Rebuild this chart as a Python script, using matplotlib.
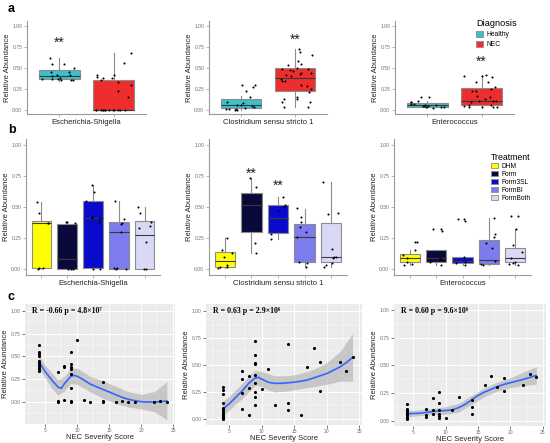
import numpy as np
import matplotlib
matplotlib.use('Agg')
import matplotlib.pyplot as plt
from matplotlib.patches import Patch
from matplotlib.ticker import MultipleLocator

plt.rcParams['font.family'] = ['Liberation Sans', 'DejaVu Sans']

# ---------------- data: panel a (Healthy vs NEC) ----------------
genera = ['Escherichia-Shigella', 'Clostridium sensu stricto 1', 'Enterococcus']
diagnosis = ['Healthy', 'NEC']
diag_colors = ['#3EC0C8', '#EE2E2E']

# box stats per genus: [Healthy, NEC] -> (whislo, q1, med, q3, whishi)
a_box = [
    [(0.34, 0.37, 0.405, 0.475, 0.62), (0.0, 0.0, 0.0, 0.35, 0.68)],
    [(0.005, 0.02, 0.055, 0.13, 0.17), (0.04, 0.22, 0.38, 0.50, 0.72)],
    [(0.02, 0.035, 0.055, 0.08, 0.11), (0.03, 0.055, 0.11, 0.26, 0.42)],
]
a_pts = [
    [[0.55, 0.50, 0.45, 0.62, 0.54, 0.35, 0.37, 0.36, 0.41, 0.37, 0.40, 0.37, 0.45, 0.42, 0.38, 0.36],
     [0.68, 0.56, 0.33, 0.30, 0.38, 0.36, 0.22, 0.41, 0.39, 0.41, 0.38, 0.15,
      0.0, 0.0, 0.0, 0.0, 0.0, 0.0, 0.0, 0.0, 0.0, 0.0, 0.0, 0.0, 0.0]],
    [[0.30, 0.30, 0.27, 0.23, 0.15, 0.10, 0.08, 0.055, 0.035, 0.015, 0.02, 0.01, 0.005, 0.005, 0.01, 0.045, 0.06],
     [0.65, 0.58, 0.72, 0.69, 0.44, 0.48, 0.46, 0.41, 0.40, 0.365, 0.44, 0.34, 0.54, 0.53, 0.48,
      0.30, 0.34, 0.28, 0.25, 0.21, 0.15, 0.10, 0.13, 0.09, 0.13, 0.04, 0.04, 0.43, 0.50, 0.47]],
    [[0.05, 0.11, 0.10, 0.03, 0.03, 0.15, 0.15, 0.06, 0.07, 0.05, 0.09, 0.07, 0.035, 0.02, 0.06, 0.05],
     [0.27, 0.22, 0.13, 0.33, 0.33, 0.40, 0.25, 0.11, 0.035, 0.03, 0.045, 0.06, 0.11, 0.06, 0.11,
      0.035, 0.40, 0.42, 0.39, 0.03, 0.15, 0.22, 0.09, 0.17]],
]
# significance stars: (group index, height)
a_stars = [(0, 0.80), (1, 0.83), (1, 0.57)]

# ---------------- data: panel b (Treatment) ----------------
treatments = ['DHM', 'Form', 'Form3SL', 'FormBI', 'FormBoth']
treat_colors = ['#FFFF00', '#0A0A3A', '#0A0ACC', '#7C7CEE', '#D9D9F6']

b_box = [
    [(0.0, 0.005, 0.37, 0.39, 0.54), (0.0, 0.0, 0.08, 0.36, 0.37), (0.0, 0.005, 0.415, 0.545, 0.68),
     (0.0, 0.0, 0.30, 0.38, 0.55), (0.0, 0.0, 0.275, 0.39, 0.50)],
    [(0.008, 0.013, 0.065, 0.14, 0.25), (0.13, 0.30, 0.52, 0.61, 0.73), (0.24, 0.29, 0.41, 0.52, 0.58),
     (0.02, 0.06, 0.26, 0.36, 0.485), (0.015, 0.055, 0.095, 0.375, 0.70)],
    [(0.03, 0.055, 0.085, 0.12, 0.155), (0.03, 0.055, 0.085, 0.15, 0.15), (0.03, 0.045, 0.065, 0.10, 0.10),
     (0.03, 0.04, 0.075, 0.235, 0.41), (0.03, 0.055, 0.085, 0.17, 0.32)],
]
b_pts = [
    [[0.54, 0.45, 0.37, 0.01, 0.005, 0.0, 0.37],
     [0.38, 0.37, 0.38, 0.0, 0.0, 0.0],
     [0.62, 0.68, 0.38, 0.42, 0.41, 0.55, 0.41, 0.0, 0.0],
     [0.55, 0.40, 0.36, 0.37, 0.30, 0.0, 0.0, 0.005, 0.01],
     [0.50, 0.45, 0.38, 0.35, 0.33, 0.22, 0.0, 0.0]],
    [[0.25, 0.155, 0.13, 0.10, 0.035, 0.02, 0.013, 0.008],
     [0.73, 0.66, 0.13, 0.21, 0.54, 0.32],
     [0.58, 0.50, 0.47, 0.52, 0.24, 0.28],
     [0.49, 0.42, 0.38, 0.34, 0.30, 0.26, 0.02, 0.06, 0.05],
     [0.70, 0.445, 0.45, 0.16, 0.095, 0.10, 0.09, 0.035, 0.05, 0.015]],
    [[0.215, 0.215, 0.155, 0.11, 0.085, 0.06, 0.03, 0.04],
     [0.32, 0.32, 0.31, 0.03, 0.055, 0.09, 0.07],
     [0.40, 0.40, 0.39, 0.10, 0.045, 0.03, 0.06],
     [0.41, 0.26, 0.21, 0.17, 0.28, 0.065, 0.03, 0.04],
     [0.43, 0.43, 0.32, 0.135, 0.19, 0.09, 0.06, 0.03, 0.04, 0.045]],
]
b_stars = [[], [(1, 0.77), (2, 0.67)], []]

# ---------------- data: panel c (correlation with NEC severity) ----------------
c_labels = ['R = -0.66 p = 4.8×10⁷', 'R = 0.63 p = 2.9×10⁶', 'R = 0.60 p = 9.6×10⁶']

c1_x = [4, 4, 4, 4, 4, 4, 4, 4, 4, 4, 4, 7, 7, 7, 8, 8, 8, 9, 9, 9, 9, 9, 9, 9, 9,
        10, 11, 12, 14, 14, 14, 16, 17, 18, 19, 22, 23, 24]
c1_y = [0.62, 0.55, 0.53, 0.50, 0.45, 0.43, 0.41, 0.39, 0.37, 0.36, 0.34, 0.33, 0.01, 0.0,
        0.39, 0.38, 0.02, 0.55, 0.42, 0.38, 0.36, 0.30, 0.15, 0.01, 0.0,
        0.68, 0.02, 0.0, 0.22, 0.01, 0.0, 0.0, 0.01, 0.0, 0.0, 0.0, 0.01, 0.0]
c2_x = [4, 4, 4, 4, 4, 4, 4, 4, 4, 4, 4, 4, 4, 7, 7, 7, 7, 8, 8, 8, 9, 9, 9, 9, 9, 9, 9, 9, 9,
        10, 11, 12, 14, 14, 14, 16, 17, 18, 19, 19, 22, 23, 24]
c2_y = [0.30, 0.27, 0.23, 0.15, 0.10, 0.08, 0.06, 0.05, 0.04, 0.03, 0.02, 0.01, 0.0,
        0.44, 0.37, 0.245, 0.09, 0.40, 0.29, 0.04,
        0.72, 0.59, 0.515, 0.505, 0.41, 0.33, 0.25, 0.20, 0.125,
        0.28, 0.46, 0.13, 0.69, 0.145, 0.085, 0.04, 0.485, 0.655, 0.525, 0.26, 0.53, 0.44, 0.57]
c3_x = [4, 4, 4, 4, 4, 4, 4, 4, 4, 4, 4, 7, 7, 7, 8, 8, 8, 9, 9, 9, 9, 9, 9,
        10, 11, 12, 14, 14, 14, 16, 17, 18, 19, 19, 22, 23, 24]
c3_y = [0.15, 0.11, 0.10, 0.09, 0.08, 0.07, 0.06, 0.05, 0.04, 0.03, 0.02,
        0.105, 0.055, 0.035, 0.21, 0.095, 0.06, 0.26, 0.165, 0.095, 0.065, 0.045, 0.03,
        0.025, 0.095, 0.215, 0.185, 0.125, 0.065, 0.32, 0.405, 0.305, 0.385, 0.27, 0.32, 0.425, 0.40]

# loess fits and confidence bands
c1_fit_x = [4, 5, 6, 7, 7.5, 8, 9, 9.5, 10, 11, 12, 13, 14, 15, 16, 17, 18, 19, 20, 21, 22, 23, 24]
c1_fit_y = [0.44, 0.33, 0.24, 0.16, 0.147, 0.20, 0.28, 0.29, 0.28, 0.24, 0.195, 0.165, 0.135,
            0.107, 0.077, 0.048, 0.026, 0.011, 0.0, -0.004, -0.004, 0.0, 0.007]
c1_ci_x = [4, 5, 6, 7, 8, 9, 10, 12, 14, 16, 18, 20, 22, 24]
c1_ci_lo = [0.37, 0.26, 0.15, 0.07, 0.12, 0.20, 0.19, 0.11, 0.04, -0.02, -0.06, -0.08, -0.11, -0.20]
c1_ci_hi = [0.51, 0.40, 0.32, 0.24, 0.28, 0.37, 0.37, 0.28, 0.23, 0.17, 0.11, 0.08, 0.11, 0.22]

c2_fit_x = [4, 5, 6, 7, 8, 9, 9.5, 10, 11, 12, 13, 14, 15, 16, 17, 18, 19, 20, 21, 22, 23, 24]
c2_fit_y = [0.09, 0.14, 0.20, 0.26, 0.33, 0.38, 0.385, 0.37, 0.34, 0.33, 0.33, 0.335, 0.34,
            0.35, 0.36, 0.38, 0.40, 0.42, 0.45, 0.48, 0.52, 0.57]
c2_ci_x = [4, 5, 6, 7, 8, 9, 10, 11, 12, 14, 16, 18, 20, 22, 24]
c2_ci_lo = [0.03, 0.08, 0.14, 0.19, 0.25, 0.31, 0.30, 0.27, 0.25, 0.26, 0.28, 0.30, 0.32, 0.35, 0.35]
c2_ci_hi = [0.16, 0.21, 0.27, 0.33, 0.40, 0.45, 0.44, 0.42, 0.40, 0.40, 0.42, 0.46, 0.52, 0.62, 0.79]

c3_fit_x = [4, 6, 8, 9, 10, 11, 12, 13, 14, 15, 16, 17, 18, 19, 20, 22, 24]
c3_fit_y = [0.065, 0.07, 0.085, 0.09, 0.095, 0.10, 0.12, 0.15, 0.19, 0.23, 0.26, 0.285, 0.31,
            0.33, 0.345, 0.375, 0.41]
c3_ci_x = [4, 6, 8, 10, 12, 14, 16, 18, 20, 22, 24]
c3_ci_lo = [0.035, 0.05, 0.06, 0.06, 0.08, 0.15, 0.22, 0.27, 0.30, 0.32, 0.33]
c3_ci_hi = [0.095, 0.10, 0.115, 0.13, 0.16, 0.23, 0.30, 0.35, 0.39, 0.44, 0.49]

# ---------------- figure ----------------
W, H = 550, 443
fig = plt.figure(figsize=(W / 100, H / 100), dpi=100)
rng = np.random.default_rng(7)

EDGE = '#8C8C8C'
TICKC = '#707070'
TITLE_FS = 5.5


def px_axes(l, t, r, b):
    return fig.add_axes([l / W, 1 - b / H, (r - l) / W, (b - t) / H])


def classic_axes(ax, n, xlabel):
    for s in ['top', 'right']:
        ax.spines[s].set_visible(False)
    for s in ['left', 'bottom']:
        ax.spines[s].set_color('#9A9A9A')
        ax.spines[s].set_linewidth(0.8)
    ax.set_ylim(-0.05, 1.05)
    ax.set_xlim(-0.6, n - 0.4)
    ax.set_yticks([0, 0.25, 0.5, 0.75, 1.0])
    ax.set_yticklabels(['0.00', '0.25', '0.50', '0.75', '1.00'])
    ax.set_xticks(range(n))
    ax.set_xticklabels([''] * n)
    ax.tick_params(length=2, width=0.5, color='#9A9A9A', labelsize=3.6, labelcolor=TICKC, pad=1.5)
    ax.set_xlabel(xlabel, fontsize=TITLE_FS, color='#222222', labelpad=0)
    ax.set_ylabel('Relative Abundance', fontsize=TITLE_FS, color='#222222', labelpad=1)


def box_panel(ax, boxes, pts, colors, width, stars, jit):
    stats = [dict(whislo=b[0], q1=b[1], med=b[2], q3=b[3], whishi=b[4]) for b in boxes]
    bp = ax.bxp(stats, positions=range(len(stats)), widths=width, patch_artist=True,
                showfliers=False, showcaps=False,
                boxprops=dict(edgecolor=EDGE, linewidth=0.8),
                whiskerprops=dict(color=EDGE, linewidth=0.8),
                medianprops=dict(color='#3A3A3A', linewidth=0.8))
    for patch, c in zip(bp['boxes'], colors):
        patch.set_facecolor(c)
    for i, vals in enumerate(pts):
        xs = i + rng.uniform(-jit, jit, len(vals))
        ax.scatter(xs, vals, s=2.2, color='black', zorder=5, linewidths=0)
    for gi, h in stars:
        ax.text(gi, h, '**', ha='center', va='center', fontsize=10, color='#222222')


# row a
a_px = [(27, 146), (209, 327), (395, 514)]
for k in range(3):
    l, r = a_px[k]
    ax = px_axes(l, 21.3, r, 114.2)
    box_panel(ax, a_box[k], a_pts[k], diag_colors, 0.75,
              [a_stars[k]], 0.33)
    classic_axes(ax, 2, genera[k])

# row b
b_px = [(26, 160), (209, 347), (394, 531)]
for k in range(3):
    l, r = b_px[k]
    ax = px_axes(l, 138.8, r, 275.2)
    box_panel(ax, b_box[k], b_pts[k], treat_colors, 0.76, b_stars[k], 0.3)
    classic_axes(ax, 5, genera[k])

# row c
c_px = [(25, 304, 175, 424), (206, 304, 362, 425), (394, 304, 546, 426)]
c_xlim = [(1.83, 25.27), (1.43, 25.45), (2.02, 25.5)]
c_ylim = [(-0.246, 1.077), (-0.056, 1.065), (-0.045, 1.054)]
c_series = [(c1_x, c1_y, c1_fit_x, c1_fit_y, c1_ci_x, c1_ci_lo, c1_ci_hi),
            (c2_x, c2_y, c2_fit_x, c2_fit_y, c2_ci_x, c2_ci_lo, c2_ci_hi),
            (c3_x, c3_y, c3_fit_x, c3_fit_y, c3_ci_x, c3_ci_lo, c3_ci_hi)]
for k in range(3):
    ax = px_axes(*c_px[k])
    px, py, fx, fy, cx, clo, chi = c_series[k]
    ax.set_facecolor('#EBEBEB')
    for s in ax.spines.values():
        s.set_visible(False)
    ax.set_axisbelow(True)
    ax.set_xlim(*c_xlim[k])
    ax.set_ylim(*c_ylim[k])
    ax.set_xticks([5, 10, 15, 20, 25])
    ax.set_yticks([0, 0.25, 0.5, 0.75, 1.0])
    ax.set_yticklabels(['0.00', '0.25', '0.50', '0.75', '1.00'])
    ax.xaxis.set_minor_locator(MultipleLocator(2.5))
    ax.yaxis.set_minor_locator(MultipleLocator(0.125))
    ax.grid(which='major', color='white', linewidth=0.7)
    ax.grid(which='minor', color='white', linewidth=0.35)
    ax.tick_params(which='major', length=2, width=0.5, color='#444444', labelsize=3.6,
                   labelcolor=TICKC, pad=1.2)
    ax.tick_params(which='minor', length=0)
    ax.fill_between(cx, clo, chi, color='#999999', alpha=0.45, linewidth=0, zorder=2)
    ax.plot(fx, fy, color='#3366FF', linewidth=1.2, zorder=3)
    ax.scatter(px, py, s=5, color='black', zorder=4, linewidths=0)
    ax.set_xlabel('NEC Severity Score', fontsize=TITLE_FS, color='#222222', labelpad=0.5)
    ax.set_ylabel('Relative Abundance', fontsize=TITLE_FS, color='#222222', labelpad=1)
    ax.text(0.045, 0.945, c_labels[k], transform=ax.transAxes, ha='left', va='center',
            fontsize=5.7, fontweight='bold', family=['Liberation Serif', 'DejaVu Serif'])

# legends
diag_handles = [Patch(facecolor=c, edgecolor=EDGE, linewidth=0.6) for c in diag_colors]
fig.legend(diag_handles, diagnosis, title='Diagnosis', loc='upper left',
           bbox_to_anchor=(476 / W, 1 - 19 / H), frameon=False, fontsize=4.9,
           title_fontsize=6.6, handlelength=1.0, handleheight=0.9, labelspacing=0.45,
           handletextpad=0.5, borderaxespad=0, borderpad=0, alignment='left')
treat_handles = [Patch(facecolor=c, edgecolor=EDGE, linewidth=0.6) for c in treat_colors]
fig.legend(treat_handles, treatments, title='Treatment', loc='upper left',
           bbox_to_anchor=(491 / W, 1 - 153 / H), frameon=False, fontsize=4.8,
           title_fontsize=6.3, handlelength=1.0, handleheight=0.75, labelspacing=0.15,
           handletextpad=0.5, borderaxespad=0, borderpad=0, alignment='left')

# panel letters
for letter, y in [('a', 9), ('b', 130), ('c', 297)]:
    fig.text(8 / W, 1 - y / H, letter, fontsize=9, fontweight='bold', va='center', ha='left')

fig.savefig('out.png', dpi=100)
